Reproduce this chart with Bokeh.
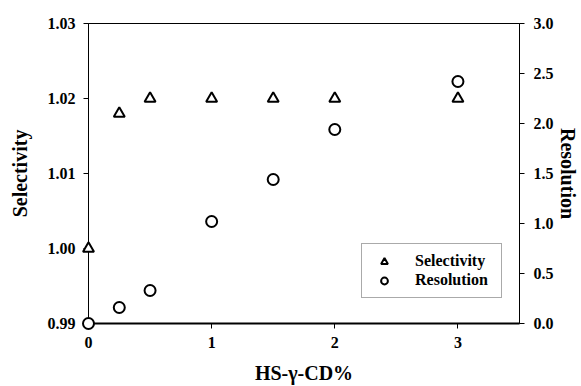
from bokeh.plotting import figure
from bokeh.models import Range1d, LinearAxis, FixedTicker, PrintfTickFormatter, Legend, LegendItem
from bokeh.embed import file_html
from bokeh.resources import INLINE

# Data
hs_gamma_cd = [0, 0.25, 0.5, 1, 1.5, 2, 3]
selectivity = [1.000, 1.018, 1.020, 1.020, 1.020, 1.020, 1.020]
resolution = [0.0, 0.16, 0.33, 1.02, 1.44, 1.94, 2.42]

x_ticks = [0, 1, 2, 3]
sel_ticks = [0.99, 1.00, 1.01, 1.02, 1.03]
res_ticks = [0.0, 0.5, 1.0, 1.5, 2.0, 2.5, 3.0]

FONT = "Liberation Serif"

p = figure(width=581, height=386, x_range=Range1d(0, 3.5), y_range=Range1d(0.99, 1.03),
           output_backend="svg", toolbar_location=None,
           min_border_left=88, min_border_top=23, min_border_right=62, min_border_bottom=61)
p.extra_y_ranges = {"res": Range1d(0, 3.0)}
p.grid.visible = False
p.outline_line_color = "black"
p.outline_line_width = 1
p.background_fill_color = "white"
p.border_fill_color = "white"

def style_axis(ax, ticks, fmt, standoff):
    ax.ticker = FixedTicker(ticks=ticks)
    ax.formatter = PrintfTickFormatter(format=fmt)
    ax.minor_tick_line_color = None
    ax.major_tick_out = 5
    ax.major_tick_in = 0
    ax.major_tick_line_color = "black"
    ax.axis_line_color = "black"
    ax.major_label_text_font = FONT
    ax.major_label_text_font_style = "bold"
    ax.major_label_text_font_size = "16px"
    ax.major_label_text_color = "black"
    ax.major_label_standoff = standoff
    ax.axis_label_text_font = FONT
    ax.axis_label_text_font_style = "bold"
    ax.axis_label_text_font_size = "20px"
    ax.axis_label_text_color = "black"

xa = p.xaxis[0]
style_axis(xa, x_ticks, "%d", 8)
xa.axis_label = "HS-γ-CD%"
xa.axis_label_standoff = 11
xa.axis_line_width = 2

ya = p.yaxis[0]
style_axis(ya, sel_ticks, "%.2f", 8)
ya.axis_label = "Selectivity"
ya.axis_label_standoff = 14

ra = LinearAxis(y_range_name="res", axis_label="Resolution")
style_axis(ra, res_ticks, "%.1f", 9)
ra.axis_label_standoff = 0
p.add_layout(ra, "right")

r1 = p.scatter(hs_gamma_cd, selectivity, marker="triangle", size=11, line_color="black",
               line_width=2, fill_color="white", level="overlay")
r2 = p.scatter(hs_gamma_cd, resolution, marker="circle", size=11, line_color="black",
               line_width=2, fill_color="white", y_range_name="res", level="overlay")

legend = Legend(items=[LegendItem(label="Selectivity", renderers=[r1]),
                       LegendItem(label="Resolution", renderers=[r2])],
                location=(273, 25))
legend.label_text_font = FONT
legend.label_text_font_style = "bold"
legend.label_text_font_size = "16px"
legend.label_text_color = "black"
legend.border_line_color = "#555555"
legend.border_line_width = 1
legend.background_fill_color = "white"
legend.background_fill_alpha = 1
legend.padding = 8
legend.spacing = 1
legend.glyph_width = 28
legend.glyph_height = 17
legend.label_height = 16
legend.label_width = 78
legend.label_standoff = 17
legend.margin = 0
p.add_layout(legend)

open("out.html", "w").write(file_html(p, INLINE))
